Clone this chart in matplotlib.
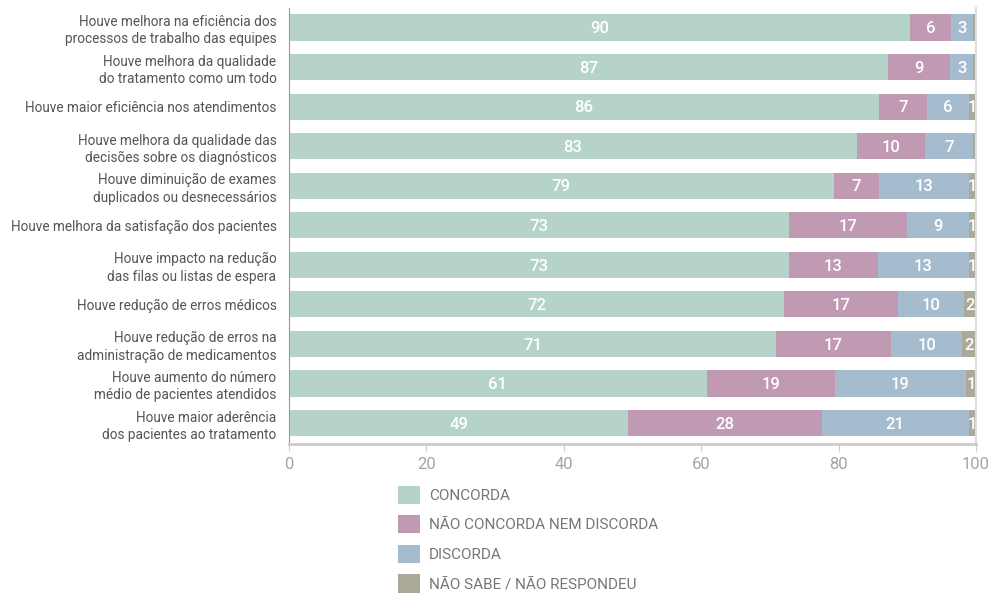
import matplotlib.pyplot as plt
from matplotlib.patches import Patch

plt.rcParams['font.family'] = ['Roboto', 'DejaVu Sans']

afirmacoes = [
    'Houve melhora na eficiência dos\nprocessos de trabalho das equipes',
    'Houve melhora da qualidade\ndo tratamento como um todo',
    'Houve maior eficiência nos atendimentos',
    'Houve melhora da qualidade das\ndecisões sobre os diagnósticos',
    'Houve diminuição de exames\nduplicados ou desnecessários',
    'Houve melhora da satisfação dos pacientes',
    'Houve impacto na redução\ndas filas ou listas de espera',
    'Houve redução de erros médicos',
    'Houve redução de erros na\nadministração de medicamentos',
    'Houve aumento do número\nmédio de pacientes atendidos',
    'Houve maior aderência\ndos pacientes ao tratamento',
]

concorda = [90.4, 87.2, 85.9, 82.6, 79.3, 72.8, 72.7, 72.1, 70.9, 60.8, 49.4]
nem_nem = [5.9, 9.0, 6.9, 9.9, 6.6, 17.1, 13.0, 16.6, 16.7, 18.6, 28.1]
discorda = [3.3, 3.4, 6.2, 7.1, 13.1, 9.1, 13.2, 9.6, 10.4, 19.2, 21.4]
nao_sabe = [0.4, 0.4, 1.0, 0.4, 1.0, 1.0, 1.1, 1.7, 2.0, 1.4, 1.1]

categorias = ['CONCORDA', 'NÃO CONCORDA NEM DISCORDA', 'DISCORDA',
              'NÃO SABE / NÃO RESPONDEU']
series = [concorda, nem_nem, discorda, nao_sabe]
cores = ['#b5d3c9', '#c09ab2', '#a5bccf', '#aaa99a']

fig = plt.figure(figsize=(9.93, 5.96), dpi=100)
ax = fig.add_axes([0.291, 0.255, 0.692, 0.732])

y = list(range(len(afirmacoes)))
esquerda = [0.0] * len(afirmacoes)
for valores, cor in zip(series, cores):
    ax.barh(y, valores, left=esquerda, height=0.66, color=cor, edgecolor='none')
    for i, v in enumerate(valores):
        if round(v) >= 1:
            ax.text(esquerda[i] + v / 2, i + 0.03, f'{v:.0f}', ha='center',
                    va='center', color='white', fontsize=12, fontweight='medium')
    esquerda = [a + b for a, b in zip(esquerda, valores)]

ax.set_xlim(0, 100)
ax.set_ylim(len(afirmacoes) - 0.47, -0.5)
ax.set_yticks(y)
ax.set_yticklabels(afirmacoes, fontsize=9.8, color='#555555', linespacing=1.3)
ax.tick_params(axis='y', length=0, pad=9)
ax.set_xticks([0, 20, 40, 60, 80, 100])
ax.tick_params(axis='x', length=5, color='#cccccc', labelsize=12,
               labelcolor='#a5a5a5', pad=4)

ax.spines['top'].set_visible(False)
ax.spines['left'].set_color('#999999')
ax.spines['right'].set_color('#dddddd')
ax.spines['right'].set_linewidth(1.5)
ax.spines['bottom'].set_color('#cccccc')
ax.spines['bottom'].set_linewidth(2)

alcas = [Patch(facecolor=c, edgecolor='none') for c in cores]
leg = fig.legend(alcas, categorias, loc='upper left',
                 bbox_to_anchor=(0.393, 0.198), frameon=False, fontsize=11,
                 labelspacing=0.75, handlelength=1.45, handleheight=1.45,
                 handletextpad=0.6, borderpad=0)
for t in leg.get_texts():
    t.set_color('#777777')

fig.savefig('out.png', dpi=100)
